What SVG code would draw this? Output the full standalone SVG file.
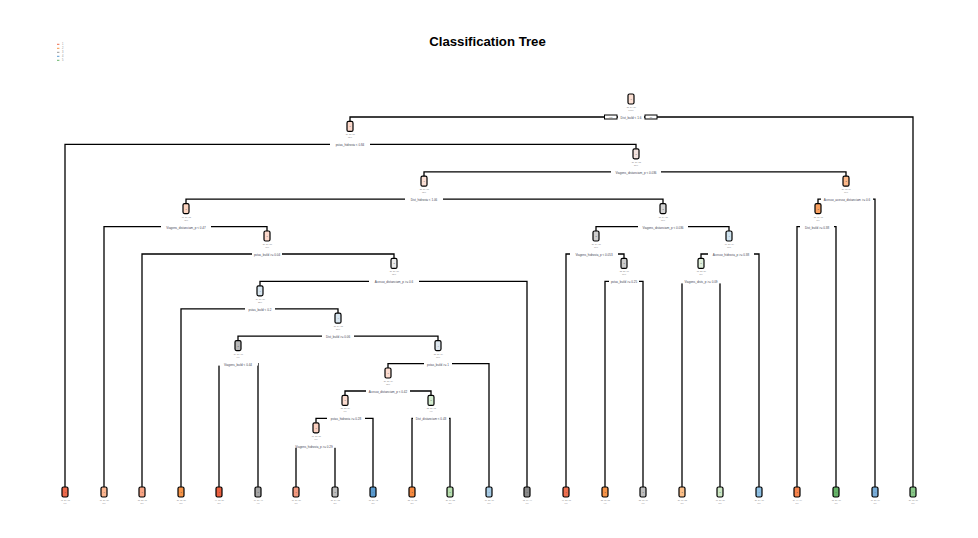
<svg xmlns="http://www.w3.org/2000/svg" width="978" height="538" viewBox="0 0 978 538">
<style>
.e{fill:none;stroke:#000;stroke-width:1.3}
.b{stroke:#000;stroke-width:1.2}
.t{font-family:"Liberation Sans",Arial,sans-serif;font-size:2.1px;fill:#888;text-anchor:middle}
.c{font-family:"Liberation Sans",Arial,sans-serif;font-size:2.2px;fill:#555;text-anchor:middle}
.s{font-family:"Liberation Sans",Arial,sans-serif;font-size:3px;fill:#445;text-anchor:middle}
.bg{fill:#fff}
.yn{fill:#fff;stroke:#000;stroke-width:1}
.title{font-family:"Liberation Sans",Arial,sans-serif;font-size:13.2px;font-weight:bold;fill:#000;text-anchor:middle}
.lg{font-family:"Liberation Sans",Arial,sans-serif;font-size:2.6px;fill:#888}
</style>
<rect width="978" height="538" fill="#fff"/>
<text class="title" x="487.5" y="45.5">Classification Tree</text>
<g id="legend">
<rect x="57" y="43.8" width="2.4" height="1" fill="#ee6a4c"/><text class="lg" x="62" y="45.2">1</text>
<rect x="57" y="47.8" width="2.4" height="1" fill="#f79448"/><text class="lg" x="62" y="49.2">2</text>
<rect x="57" y="51.8" width="2.4" height="1" fill="#9a9a9a"/><text class="lg" x="62" y="53.2">3</text>
<rect x="57" y="55.8" width="2.4" height="1" fill="#5b9bd0"/><text class="lg" x="62" y="57.2">4</text>
<rect x="57" y="59.8" width="2.4" height="1" fill="#66b468"/><text class="lg" x="62" y="61.2">5</text>
</g>
<g id="connectors">
<path class="e" d="M350 121.4V117H913V487"/>
<path class="e" d="M65 487V144.4H636V148.8"/>
<path class="e" d="M424 176.2V171.8H846V176.2"/>
<path class="e" d="M186 203.6V199.2H663V203.6"/>
<path class="e" d="M818 203.6V199.2H875V487"/>
<path class="e" d="M104 487V226.6H267V231"/>
<path class="e" d="M596 231V226.6H729V231"/>
<path class="e" d="M797 487V226.6H836V487"/>
<path class="e" d="M142 487V254H394V258.4"/>
<path class="e" d="M566 487V254H624V258.4"/>
<path class="e" d="M701 258.4V254H759V487"/>
<path class="e" d="M260 285.8V281.4H527V487"/>
<path class="e" d="M605 487V281.4H643V487"/>
<path class="e" d="M682 487V281.4H720V487"/>
<path class="e" d="M181 487V308.8H338V313.2"/>
<path class="e" d="M238 340.6V336.2H438V340.6"/>
<path class="e" d="M219 487V363.6H258V487"/>
<path class="e" d="M388 368V363.6H489V487"/>
<path class="e" d="M345 395.4V391H431V395.4"/>
<path class="e" d="M316 422.8V418.4H373V487"/>
<path class="e" d="M412 487V418.4H450V487"/>
<path class="e" d="M296 487V445.8H335V487"/>
</g>
<g id="n1">
<rect class="b" x="628" y="94" width="6" height="10" rx="1.5" fill="#fce0d4"/><text class="c" x="631" y="100">1</text>
<text class="t" x="631" y="108">.28 .24 .20</text><text class="t" x="631" y="111">100%</text>
<rect class="bg" x="618" y="114.5" width="26" height="4.5"/><text class="s" x="631" y="119">Dist_build &lt; 1.6</text>
<rect class="yn" x="604.5" y="115" width="12.5" height="4"/><text class="c" x="610.7" y="117.9">yes</text>
<rect class="yn" x="645" y="115" width="12" height="4"/><text class="c" x="651" y="117.9">no</text>
</g>
<g id="n2">
<rect class="b" x="347" y="121.4" width="6" height="10" rx="1.5" fill="#fcd9cc"/><text class="c" x="350" y="127.4">1</text>
<text class="t" x="350" y="135.4">.29 .25 .21</text><text class="t" x="350" y="138.4">95%</text>
<rect class="bg" x="330" y="142" width="40" height="4.5"/><text class="s" x="350" y="146.4">pstas_hidrovia &lt; 0.84</text>
</g>
<g id="n3">
<rect class="b" x="633" y="148.8" width="6" height="10" rx="1.5" fill="#f2e2de"/><text class="c" x="636" y="154.8">1</text>
<text class="t" x="636" y="162.8">.27 .26 .22</text><text class="t" x="636" y="165.8">89%</text>
<rect class="bg" x="611" y="169.3" width="50" height="4.5"/><text class="s" x="636" y="173.8">Viagens_distanciam_p &lt; 0.036</text>
</g>
<g id="n6">
<rect class="b" x="421" y="176.2" width="6" height="10" rx="1.5" fill="#fbe0d6"/><text class="c" x="424" y="182.2">1</text>
<text class="t" x="424" y="190.2">.28 .26 .23</text><text class="t" x="424" y="193.2">78%</text>
<rect class="bg" x="405" y="196.7" width="38" height="4.5"/><text class="s" x="424" y="201.2">Dist_hidrovia &lt; 1.06</text>
</g>
<g id="n7">
<rect class="b" x="843" y="176.2" width="6" height="10" rx="1.5" fill="#fdb98a"/><text class="c" x="846" y="182.2">2</text>
<text class="t" x="846" y="190.2">.20 .32 .24</text><text class="t" x="846" y="193.2">11%</text>
<rect class="bg" x="821" y="196.7" width="52" height="4.5"/><text class="s" x="847" y="201.2">Acesso_acesso_distanciam &gt;= 0.6</text>
</g>
<g id="n12">
<rect class="b" x="183" y="203.6" width="6" height="10" rx="1.5" fill="#fcd4c0"/><text class="c" x="186" y="209.6">1</text>
<text class="t" x="186" y="217.6">.31 .27 .22</text><text class="t" x="186" y="220.6">48%</text>
<rect class="bg" x="161" y="224.1" width="50" height="4.5"/><text class="s" x="186" y="228.6">Viagens_distanciam_p &lt; 0.47</text>
</g>
<g id="n13">
<rect class="b" x="660" y="203.6" width="6" height="10" rx="1.5" fill="#d4d4d4"/><text class="c" x="663" y="209.6">3</text>
<text class="t" x="663" y="217.6">.23 .24 .25</text><text class="t" x="663" y="220.6">30%</text>
<rect class="bg" x="638" y="224.1" width="50" height="4.5"/><text class="s" x="663" y="228.6">Viagens_distanciam_p &lt; 0.036</text>
</g>
<g id="n14">
<rect class="b" x="815" y="203.6" width="6" height="10" rx="1.5" fill="#f9a060"/><text class="c" x="818" y="209.6">2</text>
<text class="t" x="818" y="217.6">.22 .38 .18</text><text class="t" x="818" y="220.6">8%</text>
<rect class="bg" x="800" y="224.1" width="34" height="4.5"/><text class="s" x="817" y="228.6">Dist_build &gt;= 0.38</text>
</g>
<g id="n24">
<rect class="b" x="264" y="231" width="6" height="10" rx="1.5" fill="#fbd8cc"/><text class="c" x="267" y="237">1</text>
<text class="t" x="267" y="245">.29 .27 .23</text><text class="t" x="267" y="248">43%</text>
<rect class="bg" x="252" y="251.5" width="30" height="4.5"/><text class="s" x="267" y="256">pstas_build &gt;= 0.04</text>
</g>
<g id="n26">
<rect class="b" x="593" y="231" width="6" height="10" rx="1.5" fill="#cfcfcf"/><text class="c" x="596" y="237">3</text>
<text class="t" x="596" y="245">.26 .24 .27</text><text class="t" x="596" y="248">17%</text>
<rect class="bg" x="570" y="251.5" width="48" height="4.5"/><text class="s" x="594" y="256">Viagens_hidrovia_p &lt; 0.053</text>
</g>
<g id="n27">
<rect class="b" x="726" y="231" width="6" height="10" rx="1.5" fill="#d0e4f0"/><text class="c" x="729" y="237">4</text>
<text class="t" x="729" y="245">.19 .23 .24</text><text class="t" x="729" y="248">13%</text>
<rect class="bg" x="708" y="251.5" width="46" height="4.5"/><text class="s" x="731" y="256">Acesso_hidrovia_p &gt;= 0.38</text>
</g>
<g id="n48">
<rect class="b" x="391" y="258.4" width="6" height="10" rx="1.5" fill="#ececec"/><text class="c" x="394" y="264.4">3</text>
<text class="t" x="394" y="272.4">.26 .26 .27</text><text class="t" x="394" y="275.4">35%</text>
<rect class="bg" x="369" y="278.9" width="50" height="4.5"/><text class="s" x="394" y="283.4">Acesso_distanciam_p &gt;= 0.6</text>
</g>
<g id="n53">
<rect class="b" x="621" y="258.4" width="6" height="10" rx="1.5" fill="#cccccc"/><text class="c" x="624" y="264.4">3</text>
<text class="t" x="624" y="272.4">.22 .25 .31</text><text class="t" x="624" y="275.4">11%</text>
<rect class="bg" x="609" y="278.9" width="30" height="4.5"/><text class="s" x="624" y="283.4">pstas_build &gt;= 0.25</text>
</g>
<g id="n54">
<rect class="b" x="698" y="258.4" width="6" height="10" rx="1.5" fill="#e0f0dc"/><text class="c" x="701" y="264.4">5</text>
<text class="t" x="701" y="272.4">.18 .22 .20</text><text class="t" x="701" y="275.4">8%</text>
<rect class="bg" x="681" y="278.9" width="40" height="4.5"/><text class="s" x="701" y="283.4">Viagens_dists_p &gt;= 0.09</text>
</g>
<g id="n96">
<rect class="b" x="257" y="285.8" width="6" height="10" rx="1.5" fill="#d8e6f0"/><text class="c" x="260" y="291.8">4</text>
<text class="t" x="260" y="299.8">.24 .26 .20</text><text class="t" x="260" y="302.8">28%</text>
<rect class="bg" x="245" y="306.3" width="30" height="4.5"/><text class="s" x="260" y="310.8">pstas_build &lt; 0.2</text>
</g>
<g id="n193">
<rect class="b" x="335" y="313.2" width="6" height="10" rx="1.5" fill="#d8e6f0"/><text class="c" x="338" y="319.2">4</text>
<text class="t" x="338" y="327.2">.23 .24 .22</text><text class="t" x="338" y="330.2">23%</text>
<rect class="bg" x="322" y="333.7" width="32" height="4.5"/><text class="s" x="338" y="338.2">Dist_build &gt;= 0.06</text>
</g>
<g id="n386">
<rect class="b" x="235" y="340.6" width="6" height="10" rx="1.5" fill="#b8b8b8"/><text class="c" x="238" y="346.6">3</text>
<text class="t" x="238" y="354.6">.24 .20 .33</text><text class="t" x="238" y="357.6">6%</text>
<rect class="bg" x="218" y="361.1" width="40" height="4.5"/><text class="s" x="238" y="365.6">Viagens_build &lt; 0.44</text>
</g>
<g id="n387">
<rect class="b" x="435" y="340.6" width="6" height="10" rx="1.5" fill="#dde6ee"/><text class="c" x="438" y="346.6">4</text>
<text class="t" x="438" y="354.6">.22 .25 .24</text><text class="t" x="438" y="357.6">17%</text>
<rect class="bg" x="424" y="361.1" width="28" height="4.5"/><text class="s" x="438" y="365.6">pstas_build &gt;= 1</text>
</g>
<g id="n775">
<rect class="b" x="385" y="368" width="6" height="10" rx="1.5" fill="#fcdcd0"/><text class="c" x="388" y="374">1</text>
<text class="t" x="388" y="382">.26 .25 .24</text><text class="t" x="388" y="385">12%</text>
<rect class="bg" x="366" y="388.5" width="44" height="4.5"/><text class="s" x="388" y="393">Acesso_distanciam_p &lt; 0.42</text>
</g>
<g id="n1550">
<rect class="b" x="342" y="395.4" width="6" height="10" rx="1.5" fill="#fcdcd0"/><text class="c" x="345" y="401.4">1</text>
<text class="t" x="345" y="409.4">.28 .22 .24</text><text class="t" x="345" y="412.4">7%</text>
<rect class="bg" x="327" y="415.9" width="38" height="4.5"/><text class="s" x="346" y="420.4">pstas_hidrovia &gt;= 0.28</text>
</g>
<g id="n1551">
<rect class="b" x="428" y="395.4" width="6" height="10" rx="1.5" fill="#d4ecd0"/><text class="c" x="431" y="401.4">5</text>
<text class="t" x="431" y="409.4">.22 .28 .12</text><text class="t" x="431" y="412.4">4%</text>
<rect class="bg" x="413" y="415.9" width="36" height="4.5"/><text class="s" x="431" y="420.4">Dist_distanciam &lt; 0.43</text>
</g>
<g id="n3100">
<rect class="b" x="313" y="422.8" width="6" height="10" rx="1.5" fill="#fbd0c0"/><text class="c" x="316" y="428.8">1</text>
<text class="t" x="316" y="436.8">.31 .22 .25</text><text class="t" x="316" y="439.8">5%</text>
<rect class="bg" x="292" y="443.3" width="44" height="4.5"/><text class="s" x="314" y="447.8">Viagens_hidrovia_p &gt;= 0.29</text>
</g>
<g id="leaves">
<g id="l65"><rect class="b" x="62" y="487" width="6" height="10" rx="1.5" fill="#ee6a4c"/><text class="c" x="65" y="493">1</text><text class="t" x="65" y="501">.45 .20 .18</text><text class="t" x="65" y="504">6%</text></g>
<g id="l104"><rect class="b" x="101" y="487" width="6" height="10" rx="1.5" fill="#fcb690"/><text class="c" x="104" y="493">1</text><text class="t" x="104" y="501">.36 .26 .20</text><text class="t" x="104" y="504">5%</text></g>
<g id="l142"><rect class="b" x="139" y="487" width="6" height="10" rx="1.5" fill="#f8a484"/><text class="c" x="142" y="493">1</text><text class="t" x="142" y="501">.38 .28 .15</text><text class="t" x="142" y="504">8%</text></g>
<g id="l181"><rect class="b" x="178" y="487" width="6" height="10" rx="1.5" fill="#f79448"/><text class="c" x="181" y="493">2</text><text class="t" x="181" y="501">.27 .35 .20</text><text class="t" x="181" y="504">5%</text></g>
<g id="l219"><rect class="b" x="216" y="487" width="6" height="10" rx="1.5" fill="#ec6040"/><text class="c" x="219" y="493">1</text><text class="t" x="219" y="501">.44 .18 .20</text><text class="t" x="219" y="504">2%</text></g>
<g id="l258"><rect class="b" x="255" y="487" width="6" height="10" rx="1.5" fill="#a6a6a6"/><text class="c" x="258" y="493">3</text><text class="t" x="258" y="501">.16 .21 .40</text><text class="t" x="258" y="504">4%</text></g>
<g id="l296"><rect class="b" x="293" y="487" width="6" height="10" rx="1.5" fill="#f49a80"/><text class="c" x="296" y="493">1</text><text class="t" x="296" y="501">.39 .21 .20</text><text class="t" x="296" y="504">3%</text></g>
<g id="l335"><rect class="b" x="332" y="487" width="6" height="10" rx="1.5" fill="#bdbdbd"/><text class="c" x="335" y="493">3</text><text class="t" x="335" y="501">.21 .24 .32</text><text class="t" x="335" y="504">2%</text></g>
<g id="l373"><rect class="b" x="370" y="487" width="6" height="10" rx="1.5" fill="#5b9bd0"/><text class="c" x="373" y="493">4</text><text class="t" x="373" y="501">.15 .20 .42</text><text class="t" x="373" y="504">2%</text></g>
<g id="l412"><rect class="b" x="409" y="487" width="6" height="10" rx="1.5" fill="#f78a40"/><text class="c" x="412" y="493">2</text><text class="t" x="412" y="501">.22 .40 .18</text><text class="t" x="412" y="504">2%</text></g>
<g id="l450"><rect class="b" x="447" y="487" width="6" height="10" rx="1.5" fill="#b8e0b0"/><text class="c" x="450" y="493">5</text><text class="t" x="450" y="501">.20 .16 .22</text><text class="t" x="450" y="504">2%</text></g>
<g id="l489"><rect class="b" x="486" y="487" width="6" height="10" rx="1.5" fill="#a8cce6"/><text class="c" x="489" y="493">4</text><text class="t" x="489" y="501">.16 .25 .30</text><text class="t" x="489" y="504">5%</text></g>
<g id="l527"><rect class="b" x="524" y="487" width="6" height="10" rx="1.5" fill="#8a8a8a"/><text class="c" x="527" y="493">3</text><text class="t" x="527" y="501">.32 .16 .44</text><text class="t" x="527" y="504">7%</text></g>
<g id="l566"><rect class="b" x="563" y="487" width="6" height="10" rx="1.5" fill="#ef7050"/><text class="c" x="566" y="493">1</text><text class="t" x="566" y="501">.40 .22 .18</text><text class="t" x="566" y="504">6%</text></g>
<g id="l605"><rect class="b" x="602" y="487" width="6" height="10" rx="1.5" fill="#f79448"/><text class="c" x="605" y="493">2</text><text class="t" x="605" y="501">.22 .38 .22</text><text class="t" x="605" y="504">4%</text></g>
<g id="l643"><rect class="b" x="640" y="487" width="6" height="10" rx="1.5" fill="#bebebe"/><text class="c" x="643" y="493">3</text><text class="t" x="643" y="501">.22 .18 .36</text><text class="t" x="643" y="504">7%</text></g>
<g id="l682"><rect class="b" x="679" y="487" width="6" height="10" rx="1.5" fill="#fcbf88"/><text class="c" x="682" y="493">2</text><text class="t" x="682" y="501">.20 .30 .22</text><text class="t" x="682" y="504">3%</text></g>
<g id="l720"><rect class="b" x="717" y="487" width="6" height="10" rx="1.5" fill="#cce8c4"/><text class="c" x="720" y="493">5</text><text class="t" x="720" y="501">.17 .20 .26</text><text class="t" x="720" y="504">5%</text></g>
<g id="l759"><rect class="b" x="756" y="487" width="6" height="10" rx="1.5" fill="#8ec0e4"/><text class="c" x="759" y="493">4</text><text class="t" x="759" y="501">.20 .24 .30</text><text class="t" x="759" y="504">5%</text></g>
<g id="l797"><rect class="b" x="794" y="487" width="6" height="10" rx="1.5" fill="#f8844c"/><text class="c" x="797" y="493">2</text><text class="t" x="797" y="501">.24 .44 .14</text><text class="t" x="797" y="504">5%</text></g>
<g id="l836"><rect class="b" x="833" y="487" width="6" height="10" rx="1.5" fill="#66b468"/><text class="c" x="836" y="493">5</text><text class="t" x="836" y="501">.18 .26 .30</text><text class="t" x="836" y="504">3%</text></g>
<g id="l875"><rect class="b" x="872" y="487" width="6" height="10" rx="1.5" fill="#78acd8"/><text class="c" x="875" y="493">4</text><text class="t" x="875" y="501">.16 .20 .34</text><text class="t" x="875" y="504">3%</text></g>
<g id="l913"><rect class="b" x="910" y="487" width="6" height="10" rx="1.5" fill="#88c888"/><text class="c" x="913" y="493">5</text><text class="t" x="913" y="501">.20 .18 .30</text><text class="t" x="913" y="504">5%</text></g>
</g>
</svg>
